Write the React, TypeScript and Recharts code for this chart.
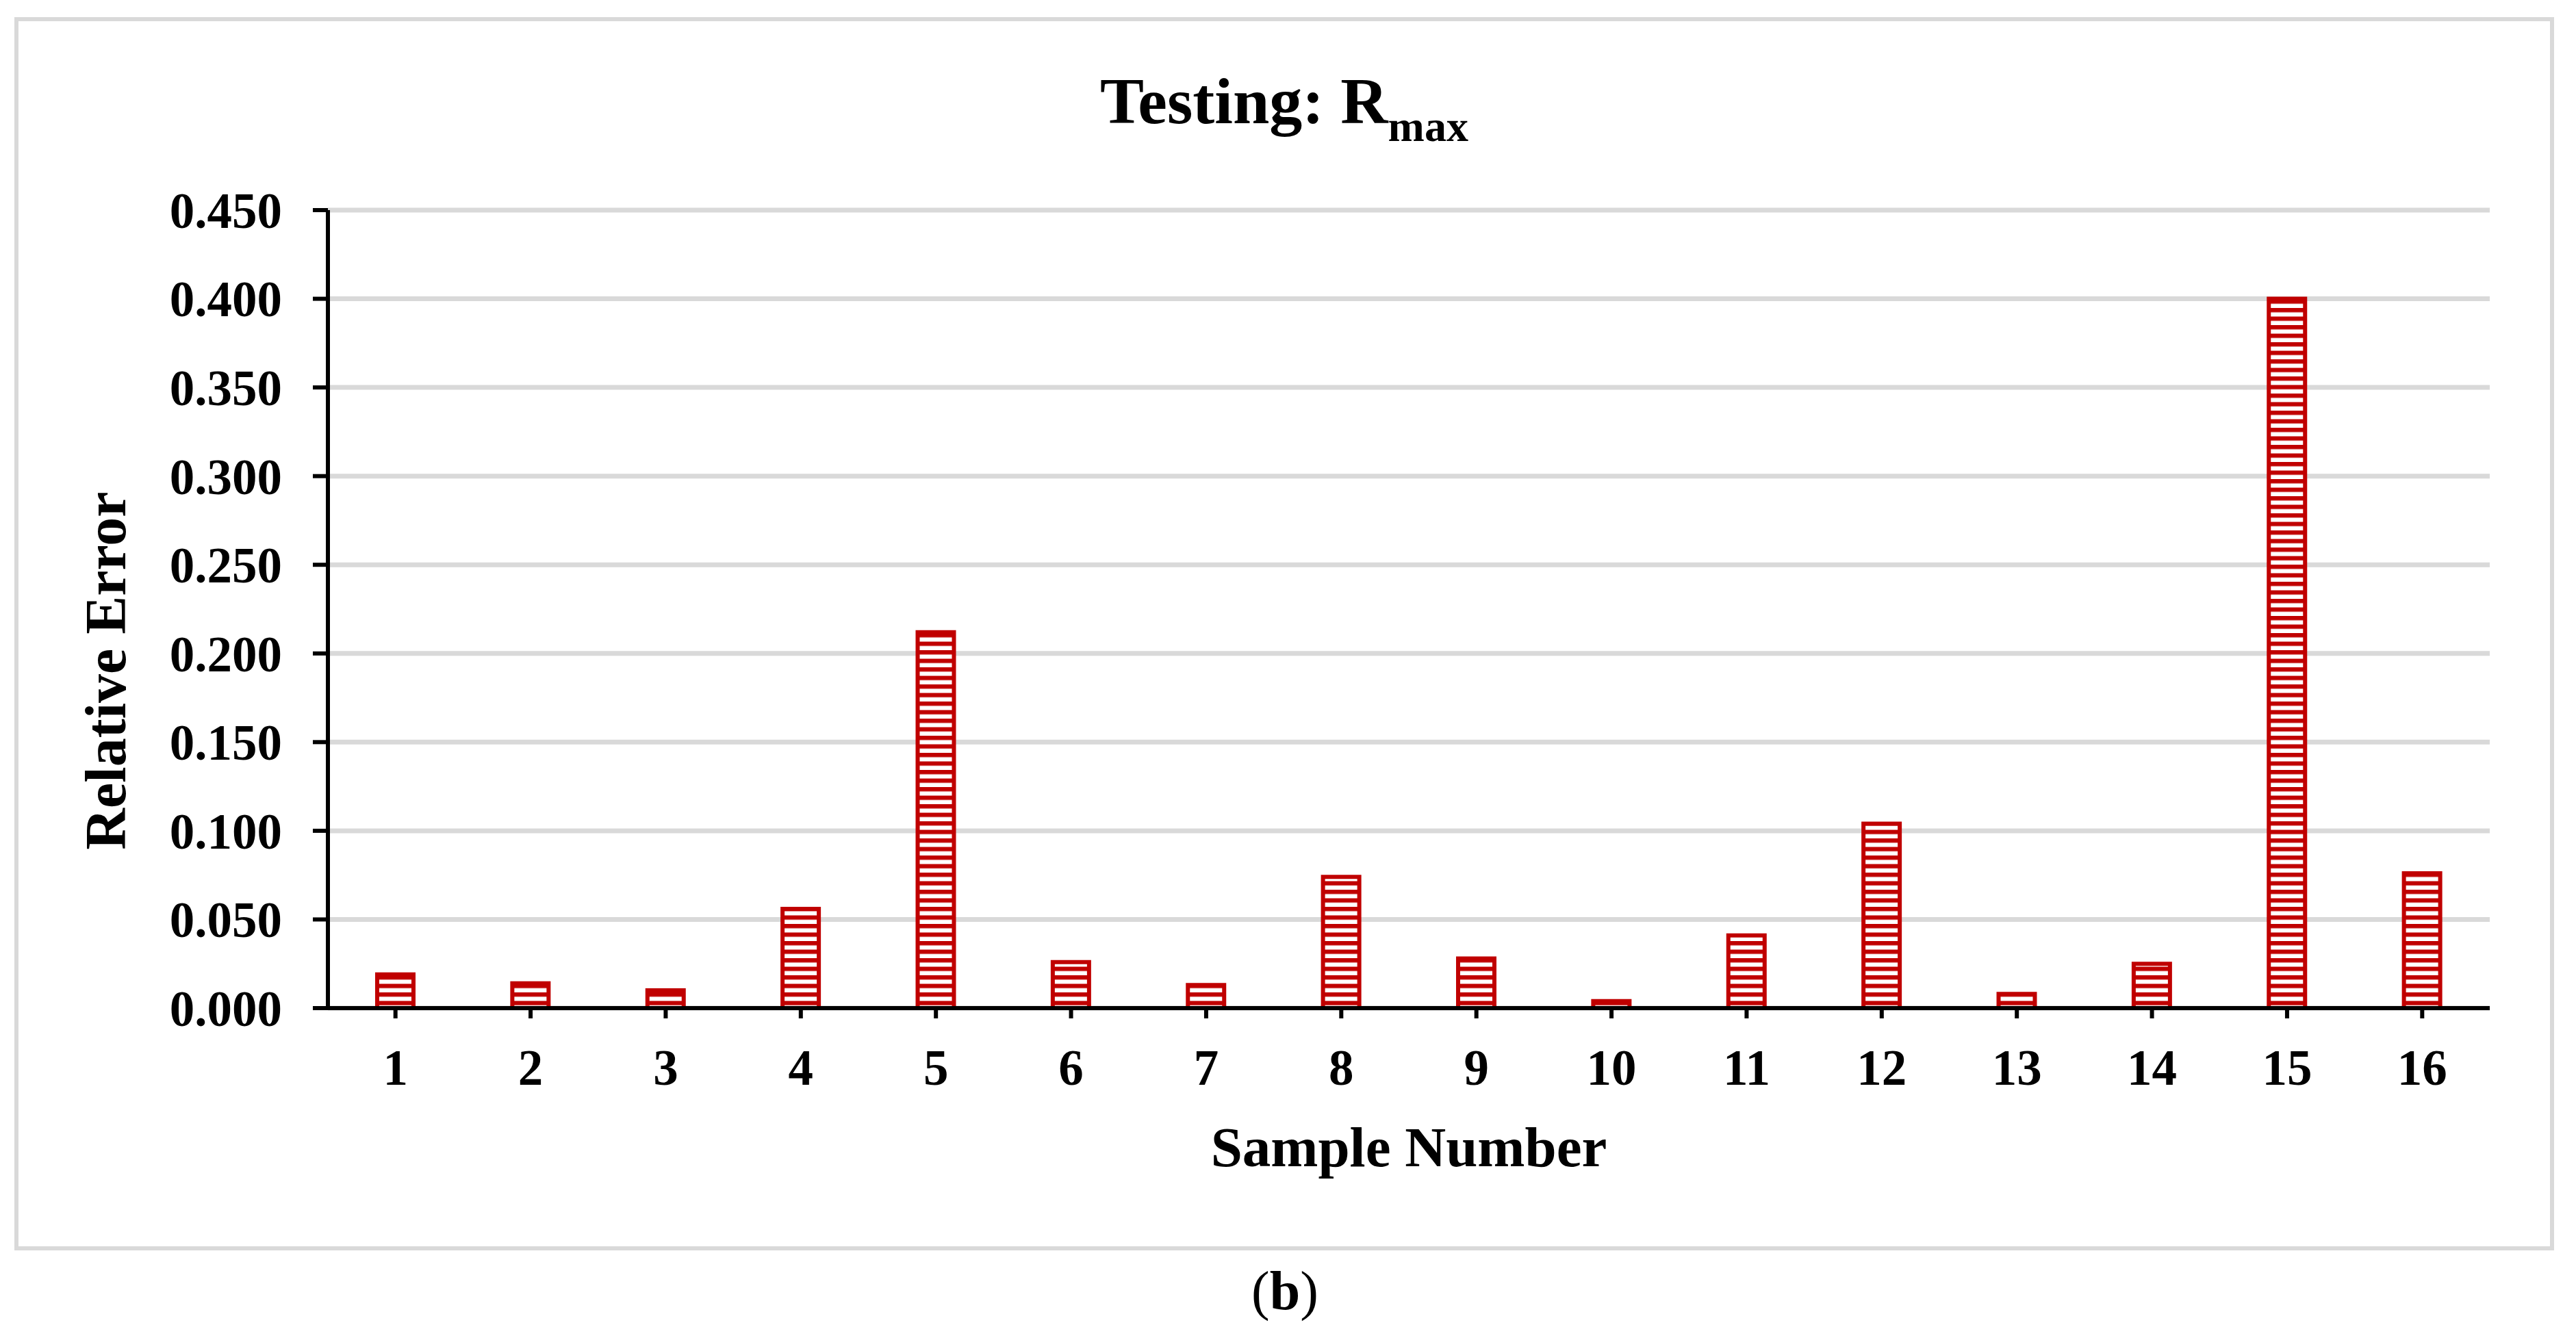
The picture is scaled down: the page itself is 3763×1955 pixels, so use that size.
import React from "react";
import { BarChart, Bar, XAxis, YAxis, CartesianGrid } from "recharts";

const samples = ["1", "2", "3", "4", "5", "6", "7", "8", "9", "10", "11", "12", "13", "14", "15", "16"];
const relativeError = [0.019, 0.014, 0.010, 0.056, 0.212, 0.026, 0.013, 0.074, 0.028, 0.004, 0.041, 0.104, 0.008, 0.025, 0.400, 0.076];
const yTicks = [0, 0.05, 0.1, 0.15, 0.2, 0.25, 0.3, 0.35, 0.4, 0.45];

const data = samples.map((s, i) => ({ sample: s, value: relativeError[i] }));

const W = 3763;
const H = 1955;
const FONT = "'Liberation Serif', 'Times New Roman', serif";
const RED = "#C00000";
const GRID = "#D9D9D9";

export default function App() {
  const tickStyle = { fill: "#000", fontSize: 73, fontWeight: 700, fontFamily: FONT };
  return (
    <div style={{ position: "absolute", left: 0, top: 0, width: W, height: H, background: "#fff" }}>
      <BarChart
        width={W}
        height={H}
        data={data}
        margin={{ top: 307, right: 126, bottom: 452, left: 379 }}
      >
        <defs>
          <pattern id="hstripe" patternUnits="userSpaceOnUse" width="10" height="12.5">
            <rect x="0" y="0" width="10" height="12.5" fill="#ffffff" />
            <rect x="0" y="0" width="10" height="6.3" fill={RED} />
          </pattern>
        </defs>
        <CartesianGrid horizontal={true} vertical={false} stroke={GRID} strokeWidth={7} />
        <XAxis
          dataKey="sample"
          interval={0}
          height={30}
          tickSize={15}
          tickMargin={45}
          axisLine={{ stroke: "#000", strokeWidth: 6 }}
          tickLine={{ stroke: "#000", strokeWidth: 6 }}
          tick={tickStyle}
        />
        <YAxis
          width={100}
          domain={[0, 0.45]}
          ticks={yTicks}
          interval={0}
          tickFormatter={(v: number) => v.toFixed(3)}
          tickSize={22}
          tickMargin={45}
          axisLine={{ stroke: "#000", strokeWidth: 6 }}
          tickLine={{ stroke: "#000", strokeWidth: 6 }}
          tick={tickStyle}
        />
        <Bar
          dataKey="value"
          barSize={53}
          fill="url(#hstripe)"
          stroke={RED}
          strokeWidth={6}
          isAnimationActive={false}
        />
      </BarChart>
      <svg
        width={W}
        height={H}
        style={{ position: "absolute", left: 0, top: 0, pointerEvents: "none" }}
      >
        <rect x={24} y={28} width={3704} height={1796} fill="none" stroke={GRID} strokeWidth={6} />
        <text x={1876} y={180} textAnchor="middle" fontFamily={FONT} fontWeight={700} fontSize={96} fill="#000">
          <tspan>Testing: R</tspan>
          <tspan fontSize={64} dy={26}>max</tspan>
        </text>
        <text x={2058} y={1704} textAnchor="middle" fontFamily={FONT} fontWeight={700} fontSize={83} fill="#000">
          Sample Number
        </text>
        <text
          x={183}
          y={980}
          textAnchor="middle"
          transform="rotate(-90 183 980)"
          fontFamily={FONT}
          fontWeight={700}
          fontSize={84}
          fill="#000"
        >
          Relative Error
        </text>
        <text x={1877} y={1913} textAnchor="middle" fontFamily={FONT} fontSize={80} fill="#000">
          <tspan>(</tspan>
          <tspan fontWeight={700}>b</tspan>
          <tspan>)</tspan>
        </text>
      </svg>
    </div>
  );
}
